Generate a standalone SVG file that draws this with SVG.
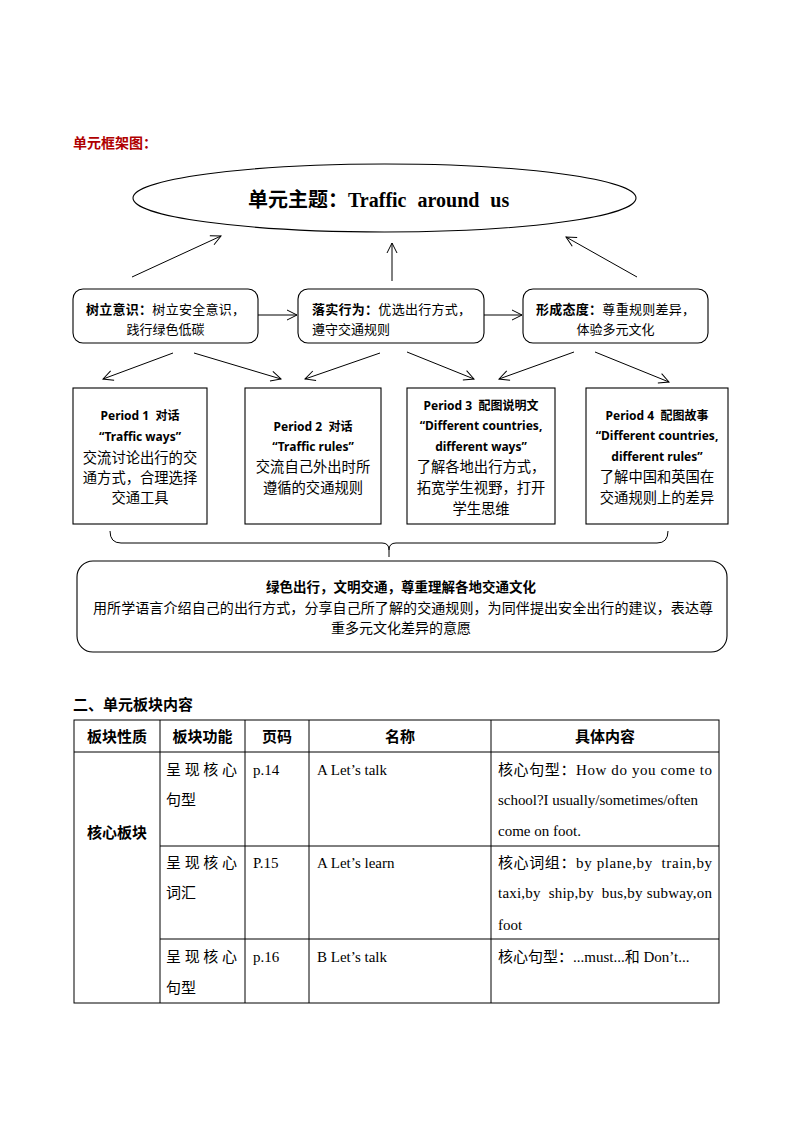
<svg xmlns="http://www.w3.org/2000/svg" width="794" height="1123" viewBox="0 0 794 1123">
<defs>
<marker id="arr" markerUnits="userSpaceOnUse" markerWidth="14" markerHeight="14" refX="11" refY="6" orient="auto">
<path d="M1,1 L11,6 L1,11" fill="none" stroke="#000" stroke-width="1"/>
</marker>
<style>
.cn{font-family:"Noto Sans CJK SC","Noto Sans",sans-serif;fill:#000}
.sans{font-family:"Noto Sans","Noto Sans CJK SC",sans-serif;fill:#000}
.ser{font-family:"Liberation Serif","Noto Sans CJK SC",serif;fill:#000}
.b{font-weight:bold}
.shape{fill:#fff;stroke:#000;stroke-width:1.1}
.ln{fill:none;stroke:#000;stroke-width:1}
.arrow{fill:none;stroke:#000;stroke-width:1;marker-end:url(#arr)}
.tb{fill:none;stroke:#000;stroke-width:1}
</style>
</defs>
<rect width="794" height="1123" fill="#fff"/>

<text x="73" y="148" class="cn b" font-size="14" style="fill:#B00000">单元框架图：</text>

<g id="theme">
<ellipse cx="384.5" cy="198" rx="251.5" ry="34" class="shape"/>
<text x="248" y="207" class="ser b" font-size="20">单元主题：<tspan word-spacing="6">Traffic around us</tspan></text>
</g>

<g id="box-awareness">
<rect x="73" y="289" width="185" height="54" rx="10" class="shape"/>
<text x="86" y="314" class="cn" font-size="13" textLength="159"><tspan class="b">树立意识：</tspan>树立安全意识，</text>
<text x="165.5" y="334" class="cn" font-size="13" text-anchor="middle">践行绿色低碳</text>
</g>

<g id="box-action">
<rect x="298" y="289" width="186" height="54" rx="10" class="shape"/>
<text x="312" y="314" class="cn" font-size="13" textLength="159"><tspan class="b">落实行为：</tspan>优选出行方式，</text>
<text x="312" y="334" class="cn" font-size="13">遵守交通规则</text>
</g>

<g id="box-attitude">
<rect x="523" y="289" width="185" height="54" rx="10" class="shape"/>
<text x="536" y="314" class="cn" font-size="13" textLength="159"><tspan class="b">形成态度：</tspan>尊重规则差异，</text>
<text x="615.5" y="334" class="cn" font-size="13" text-anchor="middle">体验多元文化</text>
</g>

<g id="period1">
<rect x="73" y="388" width="134" height="136" class="shape"/>
<text x="140" y="420" class="sans b" font-size="12" text-anchor="middle" xml:space="preserve">Period 1  对话</text>
<text x="140" y="441" class="sans b" font-size="12" text-anchor="middle">“Traffic ways”</text>
<text x="140" y="463" class="cn" font-size="14.3" text-anchor="middle">交流讨论出行的交</text>
<text x="140" y="483" class="cn" font-size="14.3" text-anchor="middle">通方式，合理选择</text>
<text x="140" y="503" class="cn" font-size="14.3" text-anchor="middle">交通工具</text>
</g>

<g id="period2">
<rect x="245" y="388" width="136" height="136" class="shape"/>
<text x="313" y="431" class="sans b" font-size="12" text-anchor="middle" xml:space="preserve">Period 2  对话</text>
<text x="313" y="451" class="sans b" font-size="12" text-anchor="middle">“Traffic rules”</text>
<text x="313" y="472" class="cn" font-size="14.3" text-anchor="middle">交流自己外出时所</text>
<text x="313" y="493" class="cn" font-size="14.3" text-anchor="middle">遵循的交通规则</text>
</g>

<g id="period3">
<rect x="407" y="388" width="148" height="136" class="shape"/>
<text x="481" y="410" class="sans b" font-size="12" text-anchor="middle" xml:space="preserve">Period 3  配图说明文</text>
<text x="481" y="430" class="sans b" font-size="12" text-anchor="middle">“Different countries,</text>
<text x="481" y="451" class="sans b" font-size="12" text-anchor="middle">different ways”</text>
<text x="481" y="472" class="cn" font-size="14.3" text-anchor="middle">了解各地出行方式，</text>
<text x="481" y="493" class="cn" font-size="14.3" text-anchor="middle">拓宽学生视野，打开</text>
<text x="481" y="514" class="cn" font-size="14.3" text-anchor="middle">学生思维</text>
</g>

<g id="period4">
<rect x="586" y="388" width="142" height="136" class="shape"/>
<text x="657" y="420" class="sans b" font-size="12" text-anchor="middle" xml:space="preserve">Period 4  配图故事</text>
<text x="657" y="440" class="sans b" font-size="12" text-anchor="middle">“Different countries,</text>
<text x="657" y="461" class="sans b" font-size="12" text-anchor="middle">different rules”</text>
<text x="657" y="482" class="cn" font-size="14.3" text-anchor="middle">了解中国和英国在</text>
<text x="657" y="503" class="cn" font-size="14.3" text-anchor="middle">交通规则上的差异</text>
</g>

<g id="summary">
<rect x="77" y="561" width="650" height="91" rx="16" class="shape"/>
<text x="401" y="592" class="cn b" font-size="13.5" text-anchor="middle">绿色出行，文明交通，尊重理解各地交通文化</text>
<text x="93" y="613" class="cn" font-size="14" textLength="620">用所学语言介绍自己的出行方式，分享自己所了解的交通规则，为同伴提出安全出行的建议，表达尊</text>
<text x="401" y="633" class="cn" font-size="14" text-anchor="middle">重多元文化差异的意愿</text>
</g>

<g id="connectors">
<line x1="132" y1="277" x2="221" y2="236" class="arrow"/>
<line x1="392" y1="281" x2="392" y2="243" class="arrow"/>
<line x1="637" y1="277" x2="566" y2="237" class="arrow"/>
<line x1="258" y1="315" x2="297" y2="315" class="arrow"/>
<line x1="484" y1="315" x2="522" y2="315" class="arrow"/>
<line x1="173" y1="353" x2="103" y2="379" class="arrow"/>
<line x1="194" y1="353" x2="281" y2="379" class="arrow"/>
<line x1="380" y1="353" x2="305" y2="379" class="arrow"/>
<line x1="407" y1="352" x2="474" y2="379" class="arrow"/>
<line x1="574" y1="352" x2="499" y2="379" class="arrow"/>
<line x1="595" y1="352" x2="669" y2="382" class="arrow"/>
<path d="M110,531 Q110,543 121,543 L382,543 Q389,543 389,550 L389,557 M389,550 Q389,543 396,543 L657,543 Q668,543 668,531" class="ln"/>
</g>

<text x="73" y="710" class="cn b" font-size="15">二、单元板块内容</text>

<g id="table">
<rect x="74" y="720" width="645" height="283" class="tb" stroke-width="1.2"/>
<line x1="74" y1="752" x2="719" y2="752" class="tb"/>
<line x1="160" y1="846" x2="719" y2="846" class="tb"/>
<line x1="160" y1="939" x2="719" y2="939" class="tb"/>
<line x1="160" y1="720" x2="160" y2="1003" class="tb"/>
<line x1="245" y1="720" x2="245" y2="1003" class="tb"/>
<line x1="309" y1="720" x2="309" y2="1003" class="tb"/>
<line x1="491" y1="720" x2="491" y2="1003" class="tb"/>

<text x="117" y="742" class="cn b" font-size="15" text-anchor="middle">板块性质</text>
<text x="202.5" y="742" class="cn b" font-size="15" text-anchor="middle">板块功能</text>
<text x="277" y="742" class="cn b" font-size="15" text-anchor="middle">页码</text>
<text x="400" y="742" class="cn b" font-size="15" text-anchor="middle">名称</text>
<text x="605" y="742" class="cn b" font-size="15" text-anchor="middle">具体内容</text>

<text x="87" y="838" class="cn b" font-size="15">核心板块</text>

<text x="166" y="775" class="cn" font-size="15" textLength="71">呈现核心</text>
<text x="166" y="805" class="cn" font-size="15">句型</text>
<text x="253" y="775" class="ser" font-size="15">p.14</text>
<text x="317" y="775" class="ser" font-size="15">A Let’s talk</text>
<text x="498" y="775" class="ser" font-size="15" textLength="214">核心句型：How do you come to</text>
<text x="498" y="805" class="ser" font-size="15" textLength="200">school?I usually/sometimes/often</text>
<text x="498" y="836" class="ser" font-size="15">come on foot.</text>

<text x="166" y="868" class="cn" font-size="15" textLength="71">呈现核心</text>
<text x="166" y="898" class="cn" font-size="15">词汇</text>
<text x="253" y="868" class="ser" font-size="15">P.15</text>
<text x="317" y="868" class="ser" font-size="15">A Let’s learn</text>
<text x="498" y="868" class="ser" font-size="15" textLength="214" xml:space="preserve">核心词组：by plane,by  train,by</text>
<text x="498" y="898" class="ser" font-size="15" textLength="214" xml:space="preserve">taxi,by  ship,by  bus,by subway,on</text>
<text x="498" y="930" class="ser" font-size="15">foot</text>

<text x="166" y="962" class="cn" font-size="15" textLength="71">呈现核心</text>
<text x="166" y="993" class="cn" font-size="15">句型</text>
<text x="253" y="962" class="ser" font-size="15">p.16</text>
<text x="317" y="962" class="ser" font-size="15">B Let’s talk</text>
<text x="498" y="962" class="ser" font-size="15">核心句型：...must...和 Don’t...</text>
</g>
</svg>
